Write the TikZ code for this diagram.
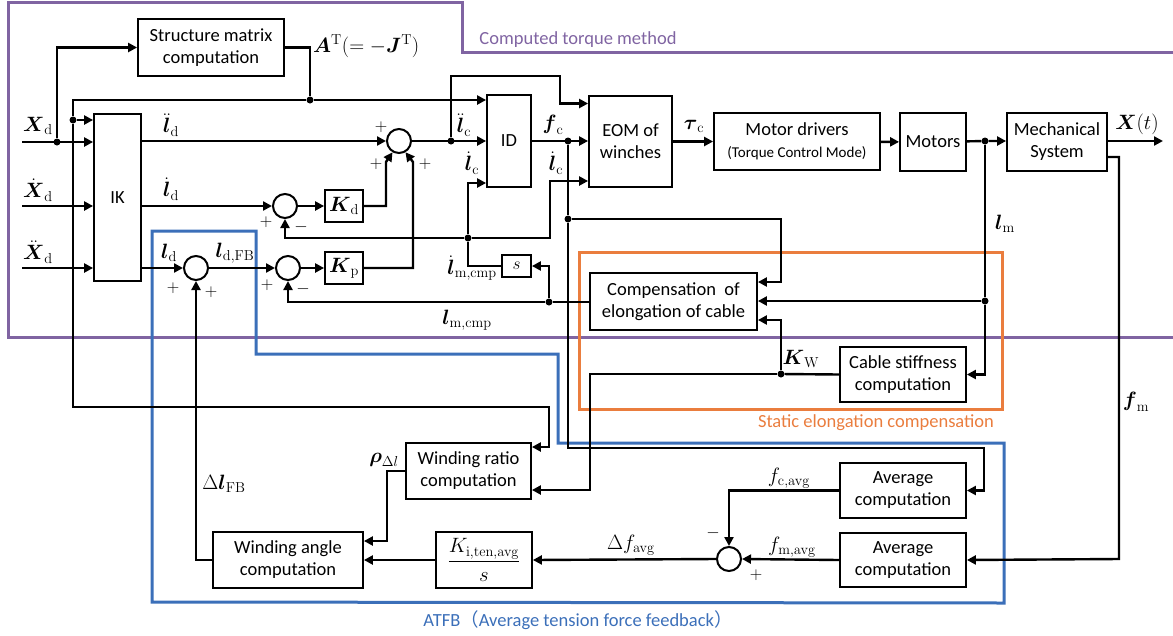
\documentclass[tikz,border=0pt]{standalone}
\usepackage{amsmath, amssymb}
\usepackage[no-math]{fontspec}
\setmainfont{Carlito}
\newfontfamily\cjkfont{Noto Sans CJK JP}
\usetikzlibrary{arrows.meta, calc}
\definecolor{ctmpurple}{RGB}{128,100,162}
\definecolor{secorange}{RGB}{234,125,62}
\definecolor{atfbblue}{RGB}{59,111,185}

\tikzset{
  blk/.style={draw, line width=1.8pt, align=center, inner sep=0pt, font=\fontsize{18.5}{22}\selectfont},
  sumc/.style={draw, line width=2pt, circle, minimum size=24pt, inner sep=0pt},
  jdot/.style={circle, fill, inner sep=0pt, minimum size=7pt},
  wire/.style={line width=2.4pt},
  sig/.style={wire, -{Triangle[length=9pt,width=9pt]}},
  lbl/.style={inner sep=1pt, font=\fontsize{20.5}{22}\selectfont},
  sgn/.style={inner sep=0pt, font=\fontsize{19}{20}\selectfont},
  frame/.style={line width=3pt},
  ftitle/.style={font=\fontsize{18.5}{22}\selectfont},
}

\begin{document}
\begin{tikzpicture}[x=1pt,y=1pt,yscale=-1]
    \useasboundingbox (0,0) rectangle (1173,635);

    %Frames
    \draw [frame, ctmpurple] (1173,52) -- (462,52) -- (462,2) -- (8,2) -- (8,337) -- (1173,337);
    \draw [frame, secorange] (579,252) rectangle (1002,409);
    \draw [frame, atfbblue] (152,602) -- (152,231) -- (256,231) -- (256,354) -- (558,354) -- (558,443) -- (1004,443) -- (1004,603) -- cycle;

    %Blocks
    \node [blk, minimum width=146, minimum height=57] (sm) at (211,47.5) {Structure matrix\\computation};
    \node [blk, minimum width=47, minimum height=167] (ik) at (117.5,197.5) {IK};
    \node [blk, minimum width=44, minimum height=92] (id) at (509,141) {ID};
    \node [blk, minimum width=83, minimum height=91] (eom) at (630.5,141.5) {EOM of\\winches};
    \node [blk, minimum width=166, minimum height=57] (drv) at (797,141.5) {Motor drivers\\{\fontsize{15}{17}\selectfont(Torque Control Mode)}};
    \node [blk, minimum width=66, minimum height=58] (mot) at (933,142) {Motors};
    \node [blk, minimum width=100, minimum height=58] (mech) at (1057,142) {Mechanical\\System};
    \node [blk, minimum width=38, minimum height=32, font=\fontsize{20.5}{22}\selectfont] (kd) at (344,206) {$\boldsymbol{K}_{\mathrm{d}}$};
    \node [blk, minimum width=38, minimum height=32, font=\fontsize{20.5}{22}\selectfont] (kp) at (344,268) {$\boldsymbol{K}_{\mathrm{p}}$};
    \node [blk, minimum width=29, minimum height=22, font=\fontsize{19}{20}\selectfont] (sbox) at (516.5,266) {$s$};
    \node [blk, minimum width=167, minimum height=57] (comp) at (673.5,301.5) {Compensation~~of\\elongation of cable};
    \node [blk, minimum width=126, minimum height=55] (stiff) at (903,374.5) {Cable stiffness\\computation};
    \node [blk, minimum width=125, minimum height=56] (wr) at (468.5,471) {Winding ratio\\computation};
    \node [blk, minimum width=150, minimum height=56] (wa) at (288,560) {Winding angle\\computation};
    \node [blk, minimum width=96, minimum height=56, font=\fontsize{20.5}{22}\selectfont] (ki) at (484,560) {$\dfrac{K_{\mathrm{i,ten,avg}}}{s}$};
    \node [blk, minimum width=126, minimum height=55] (avgc) at (903,490.5) {Average\\computation};
    \node [blk, minimum width=126, minimum height=54] (avgm) at (903,560) {Average\\computation};

    %Summing points
    \node [sumc] (s1) at (399,141) {};
    \node [sumc] (s2) at (285,206) {};
    \node [sumc] (s3) at (196,268) {};
    \node [sumc] (s4) at (288,268) {};
    \node [sumc] (s5) at (729,559) {};

    %Branch points
    \node [jdot] (jXd) at (57,142) {};
    \node [jdot] (jAT) at (310,100) {};
    \node [jdot] (jIK) at (73,120) {};
    \node [jdot] (jic) at (451,141) {};
    \node [jdot] (jfc) at (568,141) {};
    \node [jdot] (jfc2) at (568,219) {};
    \node [jdot] (jlm) at (985,141) {};
    \node [jdot] (jlm2) at (985,301) {};
    \node [jdot] (jvel) at (468,238) {};
    \node [jdot] (jcmp) at (549,302) {};
    \node [jdot] (jKW) at (781,374) {};

    %Free ends
    \coordinate (inX) at (22,142);
    \coordinate (inXd) at (22,206);
    \coordinate (inXdd) at (22,268);
    \coordinate (outX) at (1163,141);

    %Inputs
    \draw [sig] (inX) -- (inX -| ik.west);
    \draw [sig] (inXd) -- (inXd -| ik.west);
    \draw [sig] (inXdd) -- (inXdd -| ik.west);
    \draw [sig] (jXd) |- (sm.west);
    \draw [wire] (sm.east) -| (jAT);
    \draw [sig] (jAT) -- (jAT -| id.west);
    \draw [wire] (jAT) -| (jIK);
    \draw [sig] (jIK) -- (jIK -| ik.west);
    \draw [sig] (jIK) |- (549,407) |- ($(wr.east)+(0,-24)$);

    %IK outputs
    \draw [sig] (ik.east |- s1) -- (s1.west);
    \draw [sig] (ik.east |- s2) -- (s2.west);
    \draw [sig] (ik.east |- s3) -- (s3.west);
    \draw [sig] (s3) -- (s4);
    \draw [sig] (s2) -- (kd);
    \draw [sig] (s4) -- (kp);
    \draw [sig] (kd.east) -| (386,162) -- (s1.240);
    \draw [sig] (kp.east) -| (413,162) -- (s1.300);

    %Computed torque
    \draw [sig] (s1) -- (s1 -| id.west);
    \draw [sig] (jic) |- (560,76) |- ($(eom.west)+(0,-38)$);
    \draw [sig] (id.east |- jfc) -- (jfc -| eom.west);
    \draw [sig] (eom) -- (drv);
    \draw [sig] (drv) -- (mot);
    \draw [sig] (mot) -- (jlm) -- (jlm -| mech.west);
    \draw [sig] (mech.east |- outX) -- (outX);

    %Velocity feedback
    \draw [wire] (sbox.west) -| (jvel);
    \draw [sig] (jvel) -| (s2.south);
    \draw [sig] (jvel) |- ($(id.west)+(0,42)$);
    \draw [sig] (jvel) -| (550,181) -- ($(eom.west)+(0,39.5)$);

    %Position feedback
    \draw [wire] (comp.west |- jcmp) -- (jcmp);
    \draw [sig] (jcmp) -| (s4.south);
    \draw [sig] (jcmp) |- (sbox.east);

    %Elongation compensation
    \draw [wire] (jfc) -- (jfc2);
    \draw [sig] (jfc2) -| (781,282) -- ($(comp.east)+(0,-19.5)$);
    \draw [wire] (jlm) -- (jlm2);
    \draw [sig] (jlm2) -- (jlm2 -| comp.east);
    \draw [sig] (jlm2) |- (stiff.east);
    \draw [wire] (stiff.west) -- (jKW);
    \draw [sig] (jKW) |- ($(comp.east)+(0,18.5)$);
    \draw [sig] (jKW) -| (590,490) -- ($(wr.east)+(0,19)$);

    %ATFB
    \draw [sig] (jfc2) |- (984,448) |- (avgc.east);
    \draw [sig] ($(mech.east)+(0,15)$) -| (1119,559) -- (avgm.east);
    \draw [sig] (avgm.west) -- (s5.east);
    \draw [sig] (avgc.west) -| (s5.north);
    \draw [sig] (s5.west) -- (ki.east);
    \draw [sig] (ki.west) -- (wa.east);
    \draw [sig] (wr.west) -| (387,541) -- ($(wa.east)+(0,-19)$);
    \draw [sig] (wa.west) -| (s3.south);

    % Text Node
    \node [lbl, anchor=west] (lAT) at (312,46) {$\boldsymbol{A}^{\mathrm{T}}(=-\boldsymbol{J}^{\mathrm{T}})$};
    \node [lbl] (lX) at (38,126) {$\boldsymbol{X}_{\mathrm{d}}$};
    \node [lbl] (lXd) at (38,190) {$\dot{\boldsymbol{X}}_{\mathrm{d}}$};
    \node [lbl] (lXdd) at (38,252) {$\ddot{\boldsymbol{X}}_{\mathrm{d}}$};
    \node [lbl] (lldd) at (171,125) {$\ddot{\boldsymbol{l}}_{\mathrm{d}}$};
    \node [lbl] (lld) at (171,189) {$\dot{\boldsymbol{l}}_{\mathrm{d}}$};
    \node [lbl] (llpos) at (169,253) {$\boldsymbol{l}_{\mathrm{d}}$};
    \node [lbl] (lldfb) at (235,253) {$\boldsymbol{l}_{\mathrm{d,FB}}$};
    \node [lbl] (llcc) at (464,125) {$\ddot{\boldsymbol{l}}_{\mathrm{c}}$};
    \node [lbl] (lfc) at (553,125) {$\boldsymbol{f}_{\mathrm{c}}$};
    \node [lbl] (llc1) at (472,163) {$\dot{\boldsymbol{l}}_{\mathrm{c}}$};
    \node [lbl] (llc2) at (556,163) {$\dot{\boldsymbol{l}}_{\mathrm{c}}$};
    \node [lbl] (ltau) at (694,126) {$\boldsymbol{\tau}_{\mathrm{c}}$};
    \node [lbl] (lXt) at (1137,124) {$\boldsymbol{X}(t)$};
    \node [lbl] (llm) at (1005,224) {$\boldsymbol{l}_{\mathrm{m}}$};
    \node [lbl, anchor=east] (llmd) at (498,268) {$\dot{\boldsymbol{l}}_{\mathrm{m,cmp}}$};
    \node [lbl] (llmc) at (467,320) {$\boldsymbol{l}_{\mathrm{m,cmp}}$};
    \node [lbl] (lKW) at (801,359) {$\boldsymbol{K}_{\mathrm{W}}$};
    \node [lbl] (lfm) at (1136,402) {$\boldsymbol{f}_{\mathrm{m}}$};
    \node [lbl] (lrho) at (384,460) {$\boldsymbol{\rho}_{\Delta l}$};
    \node [lbl] (ldl) at (224,484) {$\Delta\boldsymbol{l}_{\mathrm{FB}}$};
    \node [lbl] (ldf) at (631,545) {$\Delta f_{\mathrm{avg}}$};
    \node [lbl] (lfca) at (789,478) {$f_{\mathrm{c,avg}}$};
    \node [lbl] (lfma) at (792,547) {$f_{\mathrm{m,avg}}$};

    % Signs
    \node [sgn] at (381,127) {$+$};
    \node [sgn] at (376,164) {$+$};
    \node [sgn] at (425,164) {$+$};
    \node [sgn] at (266,222) {$+$};
    \node [sgn] at (301,227) {$-$};
    \node [sgn] at (173,288) {$+$};
    \node [sgn] at (211,292) {$+$};
    \node [sgn] at (267,285) {$+$};
    \node [sgn] at (303,289) {$-$};
    \node [sgn] at (713,533) {$-$};
    \node [sgn] at (756,575) {$+$};

    % Frame titles
    \node [ftitle, text=ctmpurple] (tctm) at (578,40) {Computed torque method};
    \node [ftitle, text=secorange] (tsec) at (876,423) {Static elongation compensation};
    \node [ftitle, text=atfbblue] (tatfb) at (578,620) {ATFB{\cjkfont （}Average tension force feedback{\cjkfont ）}};
\end{tikzpicture}
\end{document}
